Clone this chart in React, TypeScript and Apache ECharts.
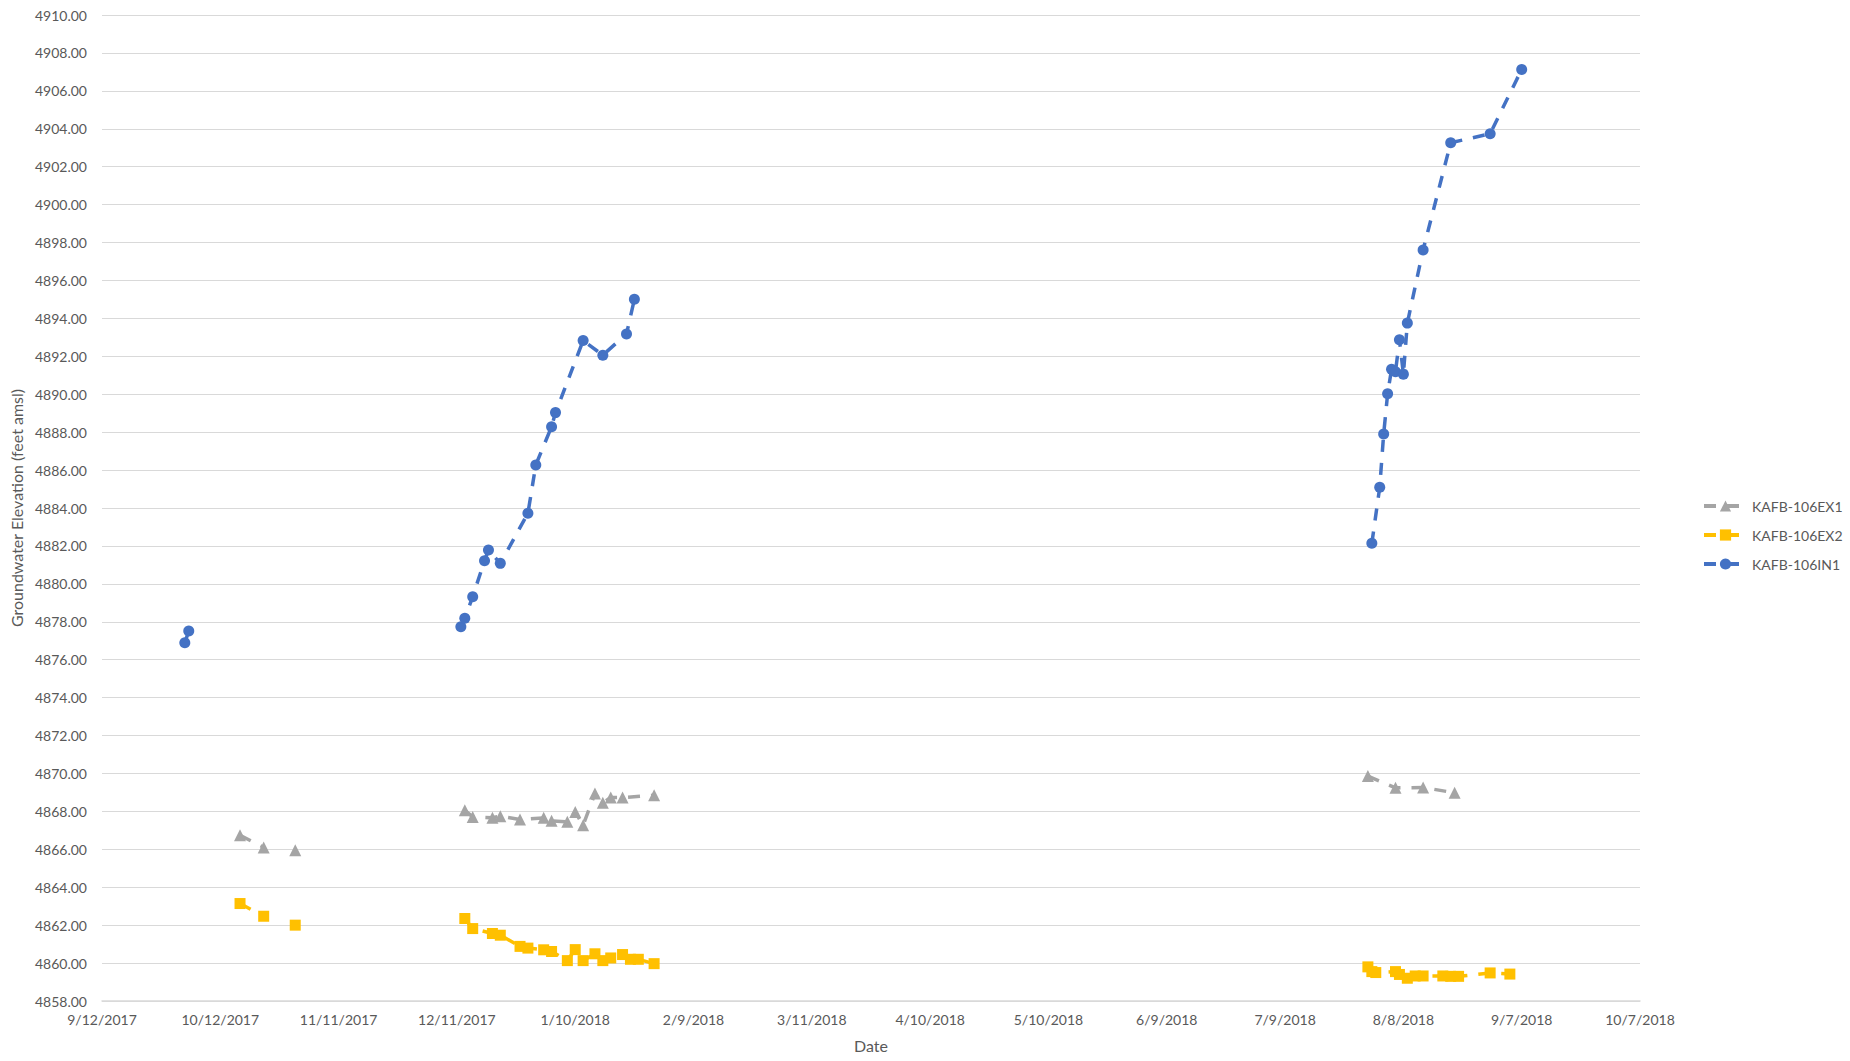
import React, { useEffect, useRef } from "react";
import * as echarts from "echarts";

// Dates (M/D/Y parsed as ISO). null marks a break in the line.
const EX1_DATES: (string | null)[] = [
  "2017-10-17", "2017-10-23", null, "2017-10-31", null,
  "2017-12-13", "2017-12-15", "2017-12-20", "2017-12-22", "2017-12-27",
  "2018-01-02", "2018-01-04", "2018-01-08", "2018-01-10", "2018-01-12",
  "2018-01-15", "2018-01-17", "2018-01-19", "2018-01-22", "2018-01-30", null,
  "2018-07-30", "2018-08-06", "2018-08-13", "2018-08-21",
];
const EX1_VALUES: (number | null)[] = [
  4866.74, 4866.1, null, 4865.95, null,
  4868.06, 4867.71, 4867.66, 4867.75, 4867.57,
  4867.66, 4867.5, 4867.45, 4867.97, 4867.27,
  4868.94, 4868.45, 4868.73, 4868.73, 4868.85, null,
  4869.86, 4869.24, 4869.26, 4868.98,
];

const EX2_DATES: (string | null)[] = [
  "2017-10-17", "2017-10-23", null, "2017-10-31", null,
  "2017-12-13", "2017-12-15", "2017-12-20", "2017-12-22", "2017-12-27",
  "2017-12-29", "2018-01-02", "2018-01-04", "2018-01-08", "2018-01-10",
  "2018-01-12", "2018-01-15", "2018-01-17", "2018-01-19", "2018-01-22",
  "2018-01-24", "2018-01-26", "2018-01-30", null,
  "2018-07-30", "2018-07-31", "2018-08-01", "2018-08-06", "2018-08-07",
  "2018-08-09", "2018-08-11", "2018-08-13", "2018-08-18", "2018-08-20",
  "2018-08-22", "2018-08-30", "2018-09-04",
];
const EX2_VALUES: (number | null)[] = [
  4863.14, 4862.47, null, 4862.0, null,
  4862.35, 4861.82, 4861.56, 4861.47, 4860.88,
  4860.79, 4860.7, 4860.61, 4860.13, 4860.71,
  4860.13, 4860.49, 4860.13, 4860.27, 4860.45,
  4860.2, 4860.2, 4859.97, null,
  4859.8, 4859.55, 4859.5, 4859.55, 4859.4,
  4859.2, 4859.32, 4859.32, 4859.32, 4859.3,
  4859.3, 4859.48, 4859.42,
];

const IN1_DATES: (string | null)[] = [
  "2017-10-03", "2017-10-04", null,
  "2017-12-12", "2017-12-13", "2017-12-15", "2017-12-18", "2017-12-19",
  "2017-12-22", "2017-12-29", "2017-12-31", "2018-01-04", "2018-01-05",
  "2018-01-12", "2018-01-17", "2018-01-23", "2018-01-25", null,
  "2018-07-31", "2018-08-02", "2018-08-03", "2018-08-04", "2018-08-05",
  "2018-08-06", "2018-08-07", "2018-08-08", "2018-08-09", "2018-08-13",
  "2018-08-20", "2018-08-30", "2018-09-07",
];
const IN1_VALUES: (number | null)[] = [
  4876.89, 4877.51, null,
  4877.74, 4878.18, 4879.32, 4881.22, 4881.78,
  4881.08, 4883.72, 4886.27, 4888.29, 4889.03,
  4892.83, 4892.06, 4893.18, 4895.01, null,
  4882.14, 4885.09, 4887.9, 4890.02, 4891.32,
  4891.19, 4892.87, 4891.06, 4893.75, 4897.61,
  4903.26, 4903.74, 4907.13,
];

const SERIES_NAMES = ["KAFB-106EX1", "KAFB-106EX2", "KAFB-106IN1"];
const AXIS_START = "2017-09-12";
const AXIS_END = "2018-10-07";
const X_STEP_DAYS = 30;
const Y_MIN = 4858;
const Y_MAX = 4910;
const Y_STEP = 2;

const DAY = 86400000;
const toUTC = (s: string) => {
  const [y, m, d] = s.split("-").map(Number);
  return Date.UTC(y, m - 1, d);
};
const START_MS = toUTC(AXIS_START);
const dayOffset = (s: string) => Math.round((toUTC(s) - START_MS) / DAY);
const fmtDay = (off: number) => {
  const d = new Date(START_MS + off * DAY);
  return `${d.getUTCMonth() + 1}/${d.getUTCDate()}/${d.getUTCFullYear()}`;
};

const build = (dates: (string | null)[], vals: (number | null)[]) =>
  dates.map((d, i) =>
    d === null || vals[i] === null ? ["-", "-"] : [dayOffset(d), vals[i]]
  );

const FONT = "Lato, 'Liberation Sans', sans-serif";
const TEXT = "#595959";

export default function App() {
  const ref = useRef<HTMLDivElement>(null);
  useEffect(() => {
    if (!ref.current) return;
    const chart = echarts.init(ref.current, undefined, { renderer: "svg" });
    const mk = (
      name: string,
      color: string,
      symbol: string,
      size: number,
      data: any[]
    ) => ({
      name,
      type: "line",
      data,
      connectNulls: false,
      symbol,
      symbolSize: size,
      showAllSymbol: true,
      itemStyle: { color },
      lineStyle: { color, width: 3.5, type: [12, 11], cap: "butt" },
      emphasis: { disabled: true },
    });
    chart.setOption({
      animation: false,
      backgroundColor: "#ffffff",
      textStyle: { fontFamily: FONT },
      grid: { left: 102, right: 210, top: 15, bottom: 60, containLabel: false },
      legend: {
        orient: "vertical",
        left: 1697,
        top: 494,
        itemWidth: 43,
        itemHeight: 14,
        itemGap: 15,
        lineStyle: { width: 4 },
        textStyle: { color: TEXT, fontSize: 14, fontFamily: FONT },
        data: SERIES_NAMES,
      },
      xAxis: {
        type: "value",
        min: 0,
        max: dayOffset(AXIS_END),
        interval: X_STEP_DAYS,
        name: "Date",
        nameLocation: "middle",
        nameGap: 36,
        nameTextStyle: { color: TEXT, fontSize: 16, fontFamily: FONT },
        axisLine: { show: true, lineStyle: { color: "#D9D9D9", width: 1.5 } },
        axisTick: { show: false },
        splitLine: { show: false },
        axisLabel: {
          color: TEXT,
          fontSize: 14,
          fontFamily: FONT,
          margin: 11,
          formatter: (v: number) => fmtDay(v),
        },
      },
      yAxis: {
        type: "value",
        min: Y_MIN,
        max: Y_MAX,
        interval: Y_STEP,
        name: "Groundwater Elevation (feet amsl)",
        nameLocation: "middle",
        nameGap: 72,
        nameTextStyle: { color: TEXT, fontSize: 16, fontFamily: FONT },
        axisLine: { show: false },
        axisTick: { show: false },
        splitLine: { show: true, lineStyle: { color: "#D9D9D9", width: 1 } },
        axisLabel: {
          color: TEXT,
          fontSize: 14,
          fontFamily: FONT,
          margin: 15,
          formatter: (v: number) => v.toFixed(2),
        },
      },
      series: [
        mk(SERIES_NAMES[0], "#A5A5A5", "triangle", 12, build(EX1_DATES, EX1_VALUES)),
        mk(SERIES_NAMES[1], "#FFC000", "rect", 11, build(EX2_DATES, EX2_VALUES)),
        mk(SERIES_NAMES[2], "#4472C4", "circle", 11, build(IN1_DATES, IN1_VALUES)),
      ],
    });
    return () => chart.dispose();
  }, []);
  return (
    <div
      ref={ref}
      style={{ position: "fixed", left: 0, top: 0, width: 1850, height: 1061 }}
    />
  );
}
